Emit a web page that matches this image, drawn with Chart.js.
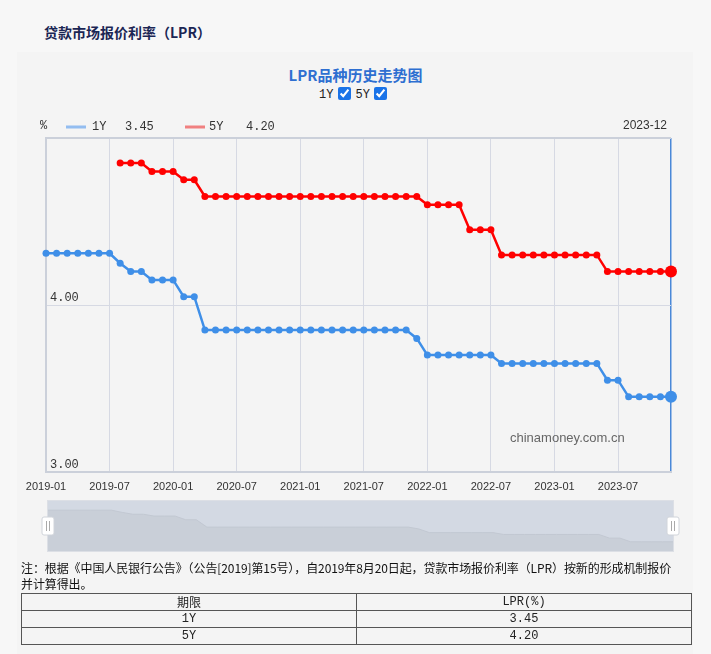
<!DOCTYPE html>
<html>
<head>
<meta charset="utf-8">
<script src="https://cdn.jsdelivr.net/npm/chart.js@4.4.0/dist/chart.umd.min.js"></script>
<style>
  body { margin: 0; width: 711px; height: 654px; overflow: hidden; position: relative;
         background: #f7f7f7; font-family: "Noto Sans CJK SC", sans-serif; color: #222; }
  .abs { position: absolute; }
  #pageTitle { left: 44px; top: 22px; font-size: 14px; font-weight: bold; color: #1b2654; }
  #panel { left: 17px; top: 52px; width: 676px; height: 610px; background: #f4f4f4; }
  #chartTitle { left: 0; top: 64px; width: 711px; text-align: center; font-size: 15px;
                font-weight: bold; color: #2e6fd1; }
  #toggles { left: 0; top: 87px; width: 711px; text-align: center; font-size: 12px;
             font-family: "Liberation Mono", monospace; color: #222; }
  #toggles input { accent-color: #1a73e8; width: 13px; height: 13px; margin: 0 5px 0 4px;
                   vertical-align: -2px; }
  #mainChart { left: 0; top: 110px; }
  #zoomChart { left: 36px; top: 498px; }
  #note { left: 21px; top: 560px; white-space: nowrap; font-size: 12px; letter-spacing: -0.1px;
          line-height: 16px; color: #111; }
  #rateTable { left: 21px; top: 593px; width: 671px; border-collapse: collapse;
               font-size: 12px; color: #222; table-layout: fixed; }
  #rateTable td { width: 50%; border: 1px solid #555; height: 16px; padding: 0; text-align: center;
                  line-height: 16px; }
  #rateTable td.num { font-family: "Liberation Mono", monospace; }
</style>
</head>
<body>
<div id="panel" class="abs"></div>
<div id="pageTitle" class="abs">贷款市场报价利率（LPR）</div>
<div id="chartTitle" class="abs">LPR品种历史走势图</div>
<div id="toggles" class="abs">1Y<input type="checkbox" checked>5Y<input type="checkbox" checked></div>
<canvas id="mainChart" class="abs" width="711" height="390"></canvas>
<canvas id="zoomChart" class="abs" width="649" height="56"></canvas>
<div id="note" class="abs">注：根据《中国人民银行公告》（公告[2019]第15号），自2019年8月20日起，贷款市场报价利率（LPR）按新的形成机制报价<br>并计算得出。</div>
<table id="rateTable" class="abs">
  <tr><td>期限</td><td class="num">LPR(%)</td></tr>
  <tr><td class="num">1Y</td><td class="num">3.45</td></tr>
  <tr><td class="num">5Y</td><td class="num">4.20</td></tr>
</table>

<script>
// monthly quotes, 2019-01 .. 2023-12
var months = [
  '2019-01','2019-02','2019-03','2019-04','2019-05','2019-06','2019-07','2019-08','2019-09','2019-10','2019-11','2019-12',
  '2020-01','2020-02','2020-03','2020-04','2020-05','2020-06','2020-07','2020-08','2020-09','2020-10','2020-11','2020-12',
  '2021-01','2021-02','2021-03','2021-04','2021-05','2021-06','2021-07','2021-08','2021-09','2021-10','2021-11','2021-12',
  '2022-01','2022-02','2022-03','2022-04','2022-05','2022-06','2022-07','2022-08','2022-09','2022-10','2022-11','2022-12',
  '2023-01','2023-02','2023-03','2023-04','2023-05','2023-06','2023-07','2023-08','2023-09','2023-10','2023-11','2023-12'
];

var rate1Y = [
  4.31, 4.31, 4.31, 4.31, 4.31, 4.31, 4.31, 4.25, 4.20, 4.20, 4.15, 4.15,
  4.15, 4.05, 4.05, 3.85, 3.85, 3.85, 3.85, 3.85, 3.85, 3.85, 3.85, 3.85,
  3.85, 3.85, 3.85, 3.85, 3.85, 3.85, 3.85, 3.85, 3.85, 3.85, 3.85, 3.80,
  3.70, 3.70, 3.70, 3.70, 3.70, 3.70, 3.70, 3.65, 3.65, 3.65, 3.65, 3.65,
  3.65, 3.65, 3.65, 3.65, 3.65, 3.55, 3.55, 3.45, 3.45, 3.45, 3.45, 3.45
];

var rate5Y = [
  null, null, null, null, null, null, null, 4.85, 4.85, 4.85, 4.80, 4.80,
  4.80, 4.75, 4.75, 4.65, 4.65, 4.65, 4.65, 4.65, 4.65, 4.65, 4.65, 4.65,
  4.65, 4.65, 4.65, 4.65, 4.65, 4.65, 4.65, 4.65, 4.65, 4.65, 4.65, 4.65,
  4.60, 4.60, 4.60, 4.60, 4.45, 4.45, 4.45, 4.30, 4.30, 4.30, 4.30, 4.30,
  4.30, 4.30, 4.30, 4.30, 4.30, 4.20, 4.20, 4.20, 4.20, 4.20, 4.20, 4.20
];

var yTicks = [3, 4, 5];
var latest = { label: '2023-12', y1: '3.45', y5: '4.20' };

var blue = '#3f8fe8';
var red = '#ff0000';
var gridColor = '#d6d9e3';
var frameColor = '#cbd0da';

function pointSize(ctx) {
  return ctx.dataIndex === months.length - 1 ? 6 : 3.5;
}

// legend row, watermark
var decorations = {
  id: 'decorations',
  afterDraw: function (chart) {
    var ctx = chart.ctx;
    ctx.save();
    ctx.textBaseline = 'middle';
    ctx.font = '12px "Liberation Mono", monospace';
    ctx.fillStyle = '#333';
    ctx.fillText('%', 40, 16);

    ctx.lineWidth = 3;
    ctx.strokeStyle = '#93bdf0';
    ctx.beginPath(); ctx.moveTo(66, 17); ctx.lineTo(86, 17); ctx.stroke();
    ctx.fillText('1Y', 92, 17);
    ctx.fillText(latest.y1, 125, 17);

    ctx.strokeStyle = '#f08080';
    ctx.beginPath(); ctx.moveTo(185, 17); ctx.lineTo(205, 17); ctx.stroke();
    ctx.fillText('5Y', 209, 17);
    ctx.fillText(latest.y5, 246, 17);

    ctx.font = '12px "Liberation Sans", sans-serif';
    ctx.textAlign = 'right';
    ctx.fillText(latest.label, 667, 16);

    ctx.textAlign = 'left';
    ctx.font = '13px "Liberation Sans", sans-serif';
    ctx.fillStyle = '#666';
    ctx.fillText('chinamoney.com.cn', 510, 328);
    ctx.restore();
  }
};

new Chart(document.getElementById('mainChart'), {
  type: 'line',
  data: {
    labels: months,
    datasets: [
      { label: '1Y', data: rate1Y, borderColor: blue, backgroundColor: blue,
        borderWidth: 2.5, pointRadius: pointSize, pointBorderWidth: 0, tension: 0 },
      { label: '5Y', data: rate5Y, borderColor: red, backgroundColor: red,
        borderWidth: 2.5, pointRadius: pointSize, pointBorderWidth: 0, tension: 0 }
    ]
  },
  options: {
    responsive: false,
    animation: false,
    devicePixelRatio: 1,
    layout: { padding: { left: 46, right: 40, top: 28, bottom: 0 } },
    plugins: { legend: { display: false }, tooltip: { enabled: false } },
    scales: {
      x: {
        afterFit: function (s) { s.height = 28; },
        grid: {
          drawTicks: false,
          color: function (c) {
            if (c.index === months.length - 1) return '#4a88d8';
            return c.index % 6 === 0 ? gridColor : 'rgba(0,0,0,0)';
          },
          lineWidth: function (c) { return c.index === months.length - 1 ? 1.5 : 1; }
        },
        border: { color: frameColor, width: 2 },
        ticks: {
          autoSkip: false, maxRotation: 0, padding: 8, color: '#333',
          font: { family: '"Liberation Sans", sans-serif', size: 11 },
          callback: function (v, i) { return i % 6 === 0 ? months[i] : ''; }
        }
      },
      y: {
        min: yTicks[0], max: yTicks[yTicks.length - 1],
        afterFit: function (s) { s.width = 0; },
        afterBuildTicks: function (s) { s.ticks = yTicks.map(function (v) { return { value: v }; }); },
        grid: {
          drawTicks: false,
          color: function (c) { return c.tick.value === 5 ? frameColor : gridColor; },
          lineWidth: function (c) { return c.tick.value === 5 ? 2 : 1; }
        },
        border: { color: frameColor, width: 2 },
        ticks: {
          mirror: true, padding: 4, labelOffset: -7, color: '#333',
          font: { family: '"Liberation Mono", monospace', size: 12 },
          callback: function (v) { return v === 5 ? '' : v.toFixed(2); }
        }
      }
    }
  },
  plugins: [decorations]
});

// data zoom strip under the chart
var zoomFrame = {
  id: 'zoomFrame',
  beforeDatasetsDraw: function (chart) {
    var a = chart.chartArea, ctx = chart.ctx;
    ctx.save();
    ctx.fillStyle = '#d3d9e3';
    ctx.fillRect(a.left, a.top, a.right - a.left, a.bottom - a.top);
    ctx.restore();
  },
  afterDraw: function (chart) {
    var a = chart.chartArea, ctx = chart.ctx;
    ctx.save();
    ctx.strokeStyle = '#dcdfe5';
    ctx.lineWidth = 1;
    ctx.strokeRect(a.left - 0.5, a.top - 0.5, a.right - a.left + 1, a.bottom - a.top + 1);
    [a.left, a.right].forEach(function (x) {
      var cy = (a.top + a.bottom) / 2;
      ctx.fillStyle = '#ffffff';
      ctx.strokeStyle = '#d0d4da';
      ctx.beginPath();
      ctx.roundRect(x - 6, cy - 9, 12, 18, 2);
      ctx.fill();
      ctx.stroke();
      ctx.strokeStyle = '#aaaaaa';
      ctx.beginPath();
      ctx.moveTo(x - 1.5, cy - 5); ctx.lineTo(x - 1.5, cy + 5);
      ctx.moveTo(x + 1.5, cy - 5); ctx.lineTo(x + 1.5, cy + 5);
      ctx.stroke();
    });
    ctx.restore();
  }
};

new Chart(document.getElementById('zoomChart'), {
  type: 'line',
  data: {
    labels: months,
    datasets: [{ data: rate1Y, borderColor: '#c2c8d2', borderWidth: 1, pointRadius: 0,
                 fill: 'start', backgroundColor: '#c9cfd8', tension: 0 }]
  },
  options: {
    responsive: false,
    animation: false,
    devicePixelRatio: 1,
    layout: { padding: { left: 12, right: 12, top: 3, bottom: 3 } },
    plugins: { legend: { display: false }, tooltip: { enabled: false } },
    scales: {
      x: { display: false },
      y: { display: false, min: 3.2, max: 4.56 }
    }
  },
  plugins: [zoomFrame]
});
</script>
</body>
</html>
